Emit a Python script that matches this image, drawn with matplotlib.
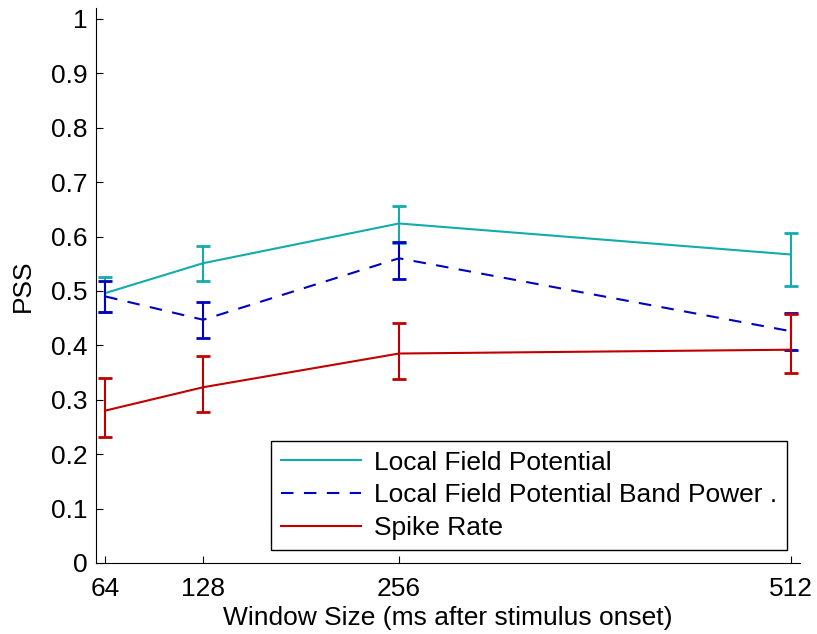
import numpy as np
import matplotlib
matplotlib.use("Agg")
import matplotlib.pyplot as plt

plt.rcParams['font.family'] = ['Liberation Sans', 'DejaVu Sans']

window = [64, 128, 256, 512]

lfp = [0.496, 0.551, 0.624, 0.567]
lfp_lo = [0.461, 0.518, 0.588, 0.510]
lfp_hi = [0.525, 0.583, 0.656, 0.607]

band = [0.490, 0.447, 0.560, 0.426]
band_lo = [0.461, 0.413, 0.522, 0.392]
band_hi = [0.519, 0.479, 0.590, 0.460]

spike = [0.280, 0.323, 0.385, 0.392]
spike_lo = [0.232, 0.277, 0.338, 0.349]
spike_hi = [0.340, 0.381, 0.442, 0.457]

labels = ['Local Field Potential', 'Local Field Potential Band Power .', 'Spike Rate']
colors = ['#13abab', '#0000c0', '#c00000']
styles = ['-', (0, (6, 5)), '-']

fs = 19
fig = plt.figure(figsize=(8.17, 6.34), dpi=100)
ax = fig.add_axes([96/817, 71/634, 704/817, 555/634])

series = [(lfp, lfp_lo, lfp_hi), (band, band_lo, band_hi), (spike, spike_lo, spike_hi)]
handles = []
for (m, lo, hi), lab, c, ls in zip(series, labels, colors, styles):
    m = np.array(m)
    err = [m - np.array(lo), np.array(hi) - m]
    ax.errorbar(window, m, yerr=err, fmt='none', ecolor=c, elinewidth=1.5,
                capsize=5, capthick=2)
    h, = ax.plot(window, m, color=c, lw=1.5, linestyle=ls, label=lab)
    handles.append(h)

ax.set_xlim(58, 518)
ax.set_ylim(0, 1.02)
ax.set_xticks(window)
ax.set_yticks(np.arange(0, 1.01, 0.1))
ax.set_yticklabels(['0', '0.1', '0.2', '0.3', '0.4', '0.5', '0.6', '0.7', '0.8', '0.9', '1'])
ax.spines['top'].set_visible(False)
ax.spines['right'].set_visible(False)
ax.tick_params(direction='in', length=5, labelsize=fs, width=0.8)
ax.tick_params(axis='y', pad=6)
ax.tick_params(axis='x', pad=10)
ax.set_xlabel('Window Size (ms after stimulus onset)', fontsize=fs, labelpad=4)
ax.set_ylabel('PSS', fontsize=fs, labelpad=12)

leg = ax.legend(handles=handles, loc='lower right', bbox_to_anchor=(787/817, 84/634),
                bbox_transform=fig.transFigure, borderaxespad=0, fancybox=False,
                edgecolor='black', framealpha=1, fontsize=fs, handlelength=3.0,
                handletextpad=0.5, labelspacing=0.33, borderpad=0.38)
leg.get_frame().set_linewidth(1.0)

fig.savefig('out.png', dpi=100)
